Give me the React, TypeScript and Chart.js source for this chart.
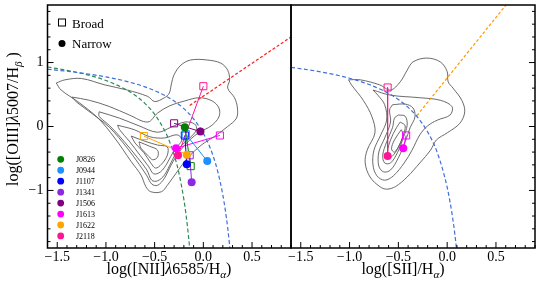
import React, { useEffect, useRef } from 'react';
import { Chart, registerables } from 'chart.js';
Chart.register(...registerables);

const FONT = '"Liberation Serif", "Times New Roman", serif';

// ---------- axes ----------
const xMin = -1.6, xMax = 0.9, yMin = -1.9, yMax = 1.9;
const xTickValues = [-1.5, -1.0, -0.5, 0.0, 0.5];
const yTickValues = [-1, 0, 1];

// ---------- objects ----------
const objectNames = ['J0826', 'J0944', 'J1107', 'J1341', 'J1506', 'J1613', 'J1622', 'J2118'];
const objectColors = ['#008000', '#1E90FF', '#0000FF', '#8A2BE2', '#800080', '#FF00FF', '#FFA500', '#FF1493'];

// [NII] BPT: broad (open squares) and narrow (filled circles)
const niiBroadX = [-0.13, -0.18, -0.19, -0.14, -0.30, 0.17, -0.61, 0.0];
const niiBroadY = [-0.62, -0.12, -0.14, -0.45, 0.05, -0.14, -0.15, 0.63];
const niiNarrowX = [-0.19, 0.04, -0.17, -0.12, -0.03, -0.28, -0.17, -0.26];
const niiNarrowY = [-0.01, -0.54, -0.59, -0.87, -0.08, -0.34, -0.44, -0.45];

// [SII] BPT
const siiNames = ['J1613', 'J2118'];
const siiBroadX = [-0.42, -0.61];
const siiBroadY = [-0.14, 0.61];
const siiNarrowX = [-0.45, -0.61];
const siiNarrowY = [-0.34, -0.46];

// ---------- demarcation curves ----------
const kewleyNiiX = [-1.6, -1.4, -1.2, -1.0, -0.8, -0.6, -0.4, -0.3, -0.2, -0.1, 0.0, 0.05, 0.1, 0.15, 0.2, 0.225, 0.25, 0.275];
const kewleyNiiY = [0.895, 0.864, 0.825, 0.775, 0.710, 0.620, 0.489, 0.398, 0.280, 0.120, -0.108, -0.262, -0.459, -0.716, -1.069, -1.300, -1.583, -1.938];
const kauffmannX = [-1.6, -1.4, -1.2, -1.0, -0.8, -0.7, -0.6, -0.5, -0.4, -0.35, -0.3, -0.25, -0.2, -0.175, -0.15, -0.14];
const kauffmannY = [0.930, 0.879, 0.812, 0.719, 0.582, 0.487, 0.362, 0.191, -0.056, -0.225, -0.443, -0.733, -1.140, -1.411, -1.750, -1.911];
const schawinskiX = [-0.14, 0.9];
const schawinskiY = [0.33, 1.40];
const kewleySiiX = [-1.6, -1.4, -1.2, -1.0, -0.8, -0.6, -0.5, -0.4, -0.3, -0.2, -0.1, 0.0, 0.05, 0.08, 0.1];
const kewleySiiY = [0.925, 0.881, 0.826, 0.755, 0.657, 0.517, 0.422, 0.300, 0.139, -0.085, -0.414, -0.950, -1.367, -1.700, -1.973];
const seyfertLinerX = [-0.31, 0.65];
const seyfertLinerY = [0.17, 1.99];

// ---------- density contours (SDSS) ----------
const niiContours = [
  [[-1.51, 0.68], [-1.42, 0.73], [-1.25, 0.75], [-1.01, 0.65], [-0.78, 0.57], [-0.57, 0.47], [-0.50, 0.39], [-0.40, 0.45], [-0.35, 0.52], [-0.33, 0.65], [-0.30, 0.81], [-0.23, 0.96], [-0.13, 1.04], [0.04, 1.04], [0.18, 0.99], [0.25, 0.88], [0.27, 0.73], [0.25, 0.60], [0.32, 0.45], [0.35, 0.29], [0.34, 0.13], [0.25, 0.0], [0.11, -0.16], [-0.02, -0.29], [-0.16, -0.49], [-0.27, -0.71], [-0.37, -0.92], [-0.43, -1.02], [-0.54, -1.02], [-0.59, -0.94], [-0.64, -0.76], [-0.74, -0.55], [-0.91, -0.18], [-1.08, 0.13], [-1.29, 0.39], [-1.46, 0.57]],
  [[-1.35, 0.46], [-1.17, 0.41], [-0.96, 0.31], [-0.76, 0.18], [-0.57, 0.07], [-0.47, 0.21], [-0.35, 0.32], [-0.19, 0.40], [-0.04, 0.45], [0.09, 0.40], [0.16, 0.29], [0.16, 0.15], [0.08, 0.01], [-0.04, -0.09], [-0.14, -0.21], [-0.25, -0.40], [-0.33, -0.60], [-0.40, -0.81], [-0.47, -0.92], [-0.53, -0.90], [-0.58, -0.77], [-0.66, -0.59], [-0.78, -0.34], [-0.96, -0.02], [-1.15, 0.21], [-1.30, 0.38]],
  [[-1.07, 0.23], [-0.86, 0.13], [-0.66, 0.01], [-0.47, -0.09], [-0.33, -0.01], [-0.19, 0.07], [-0.09, 0.04], [-0.07, -0.05], [-0.14, -0.18], [-0.25, -0.34], [-0.33, -0.56], [-0.40, -0.76], [-0.47, -0.85], [-0.53, -0.84], [-0.58, -0.68], [-0.68, -0.48], [-0.81, -0.24], [-0.96, 0.01], [-1.07, 0.16]],
  [[-0.88, 0.02], [-0.71, -0.05], [-0.55, -0.16], [-0.40, -0.18], [-0.27, -0.13], [-0.22, -0.21], [-0.30, -0.37], [-0.37, -0.57], [-0.44, -0.71], [-0.51, -0.74], [-0.56, -0.63], [-0.65, -0.45], [-0.76, -0.23], [-0.86, -0.05]],
  [[-0.74, -0.15], [-0.60, -0.23], [-0.47, -0.29], [-0.37, -0.32], [-0.37, -0.45], [-0.43, -0.59], [-0.49, -0.65], [-0.54, -0.57], [-0.61, -0.41], [-0.70, -0.26]],
  [[-0.66, -0.24], [-0.55, -0.31], [-0.47, -0.37], [-0.47, -0.48], [-0.52, -0.52], [-0.57, -0.45], [-0.64, -0.34]],
];
const siiContours = [
  [[-1.01, 0.73], [-0.89, 0.73], [-0.69, 0.65], [-0.58, 0.57], [-0.48, 0.70], [-0.41, 0.88], [-0.35, 1.01], [-0.21, 1.07], [-0.07, 1.01], [0.0, 0.86], [0.01, 0.70], [0.06, 0.60], [0.15, 0.41], [0.18, 0.23], [0.13, 0.05], [0.0, -0.10], [-0.11, -0.21], [-0.17, -0.37], [-0.28, -0.57], [-0.41, -0.79], [-0.53, -0.94], [-0.62, -0.98], [-0.69, -0.94], [-0.79, -0.79], [-0.84, -0.57], [-0.82, -0.37], [-0.74, -0.10], [-0.77, 0.15], [-0.86, 0.41], [-0.98, 0.65]],
  [[-0.76, 0.57], [-0.58, 0.49], [-0.28, 0.45], [-0.07, 0.41], [0.05, 0.31], [0.03, 0.18], [-0.10, 0.10], [-0.20, 0.01], [-0.28, -0.13], [-0.36, -0.37], [-0.44, -0.57], [-0.55, -0.77], [-0.64, -0.84], [-0.72, -0.77], [-0.76, -0.60], [-0.75, -0.37], [-0.68, -0.13], [-0.62, 0.10], [-0.64, 0.34], [-0.71, 0.49]],
  [[-0.56, 0.34], [-0.43, 0.35], [-0.35, 0.29], [-0.33, 0.15], [-0.38, -0.02], [-0.43, -0.24], [-0.50, -0.49], [-0.58, -0.68], [-0.65, -0.71], [-0.70, -0.62], [-0.70, -0.40], [-0.64, -0.18], [-0.58, 0.07], [-0.59, 0.26]],
  [[-0.50, 0.18], [-0.43, 0.16], [-0.41, 0.02], [-0.45, -0.18], [-0.51, -0.41], [-0.58, -0.57], [-0.64, -0.57], [-0.66, -0.45], [-0.62, -0.24], [-0.56, -0.02], [-0.54, 0.13]],
  [[-0.48, 0.07], [-0.43, 0.01], [-0.46, -0.18], [-0.52, -0.38], [-0.58, -0.48], [-0.61, -0.40], [-0.58, -0.21], [-0.52, -0.02]],
  [[-0.47, -0.05], [-0.45, -0.13], [-0.49, -0.29], [-0.54, -0.40], [-0.57, -0.35], [-0.54, -0.21]],
];

// ---------- helpers ----------
const xy = (xs: number[], ys: number[]) => xs.map((x, i) => ({ x, y: ys[i] }));
const closed = (c: number[][]) => {
  const p = c.map(([x, y]) => ({ x, y }));
  p.push({ ...p[0] });
  return p;
};
const fmt = (v: number, d: number) => (v < 0 ? '\u2212' : '') + Math.abs(v).toFixed(d);

type Part = { t: string; sub?: boolean; it?: boolean };

function drawRich(ctx: CanvasRenderingContext2D, parts: Part[], cx: number, base: number, size: number) {
  const subSize = size * 0.7;
  const fontOf = (p: Part) => (p.sub ? `italic ${subSize}px ${FONT}` : p.it ? `italic ${size}px ${FONT}` : `${size}px ${FONT}`);
  const widths = parts.map((p) => {
    ctx.font = fontOf(p);
    return ctx.measureText(p.t).width;
  });
  const total = widths.reduce((a, b) => a + b, 0);
  let x = cx - total / 2;
  ctx.textAlign = 'left';
  ctx.textBaseline = 'alphabetic';
  parts.forEach((p, i) => {
    ctx.font = fontOf(p);
    ctx.fillText(p.t, x, base + (p.sub ? size * 0.28 : 0));
    x += widths[i];
  });
}

function line(ctx: CanvasRenderingContext2D, x1: number, y1: number, x2: number, y2: number) {
  ctx.beginPath();
  ctx.moveTo(x1, y1);
  ctx.lineTo(x2, y2);
  ctx.stroke();
}

function decorPlugin(side: 'left' | 'right') {
  return {
    id: 'decor-' + side,
    afterDraw(chart: any) {
      const ctx: CanvasRenderingContext2D = chart.ctx;
      const a = chart.chartArea;
      const xs = chart.scales.x;
      const ys = chart.scales.y;
      ctx.save();
      ctx.strokeStyle = '#000';
      ctx.fillStyle = '#000';
      ctx.lineWidth = 1;
      for (let i = -16; i <= 9; i++) {
        const px = xs.getPixelForValue(i / 10);
        const len = i % 5 === 0 ? 6 : 3;
        line(ctx, px, a.bottom, px, a.bottom - len);
      }
      for (let i = -18; i <= 18; i += 2) {
        const py = ys.getPixelForValue(i / 10);
        const len = i % 10 === 0 ? 6 : 3;
        if (side === 'left') line(ctx, a.left, py, a.left + len, py);
        else line(ctx, a.right, py, a.right - len, py);
      }
      ctx.lineWidth = 1.5;
      ctx.strokeRect(a.left, a.top, a.right - a.left, a.bottom - a.top);

      if (side === 'left') {
        drawRich(ctx, [{ t: 'log([NII]' }, { t: 'λ', it: true }, { t: '6585/H' }, { t: 'α', sub: true }, { t: ')' }], 169, 274, 16);
        ctx.save();
        ctx.translate(17.5, 119);
        ctx.rotate(-Math.PI / 2);
        drawRich(ctx, [{ t: 'log([OIII]' }, { t: 'λ', it: true }, { t: '5007/H' }, { t: 'β', sub: true }, { t: ' )' }], 0, 0, 16);
        ctx.restore();

        ctx.lineWidth = 1;
        ctx.strokeRect(62 - 3.5, 22.5 - 3.5, 7, 7);
        ctx.beginPath();
        ctx.arc(62, 43.5, 3.5, 0, Math.PI * 2);
        ctx.fill();
        ctx.font = `13px ${FONT}`;
        ctx.textAlign = 'left';
        ctx.textBaseline = 'alphabetic';
        ctx.fillText('Broad', 72, 27.5);
        ctx.fillText('Narrow', 72, 47.5);

        ctx.font = `8px ${FONT}`;
        objectNames.forEach((name, i) => {
          const cy = 159.3 + i * 10.95;
          ctx.fillStyle = objectColors[i];
          ctx.beginPath();
          ctx.arc(60.7, cy, 3.4, 0, Math.PI * 2);
          ctx.fill();
          ctx.fillStyle = '#000';
          ctx.fillText(name, 76, cy + 3);
        });
      } else {
        drawRich(ctx, [{ t: 'log([SII]/H' }, { t: 'α', sub: true }, { t: ')' }], 403 - 288, 274, 16);
      }
      ctx.restore();
    },
  };
}

function buildDatasets(
  contours: number[][][],
  curves: { x: number[]; y: number[]; color: string; dash: number[] }[],
  names: string[],
  bx: number[], by: number[], nx: number[], ny: number[],
) {
  const ds: any[] = [];
  contours.forEach((c) => {
    ds.push({
      data: closed(c), showLine: true, borderColor: '#5a5a5a', borderWidth: 0.9,
      pointRadius: 0, tension: 0.35, fill: false, order: 10,
    });
  });
  curves.forEach((cv) => {
    ds.push({
      data: xy(cv.x, cv.y), showLine: true, borderColor: cv.color, borderWidth: 1.2,
      borderDash: cv.dash, pointRadius: 0, cubicInterpolationMode: 'monotone', fill: false, order: 8,
    });
  });
  names.forEach((name, i) => {
    const col = objectColors[objectNames.indexOf(name)];
    ds.push({
      data: [{ x: bx[i], y: by[i] }, { x: nx[i], y: ny[i] }], showLine: true,
      borderColor: col, borderWidth: 1, pointRadius: 0, fill: false, order: 5,
    });
    ds.push({
      data: [{ x: bx[i], y: by[i] }], pointStyle: 'rect', pointRadius: 5,
      borderColor: col, borderWidth: 1, backgroundColor: 'rgba(0,0,0,0)', order: 3,
    });
    ds.push({
      data: [{ x: nx[i], y: ny[i] }], pointStyle: 'circle', pointRadius: 4,
      borderWidth: 0, backgroundColor: col, borderColor: col, order: 2,
    });
  });
  return ds;
}

const zeroPad = (s: any) => {
  s.paddingTop = 0;
  s.paddingBottom = 0;
  s.paddingLeft = 0;
  s.paddingRight = 0;
};

function makeOptions(side: 'left' | 'right') {
  const tickFont = { family: FONT, size: 14 };
  return {
    responsive: false,
    animation: false,
    devicePixelRatio: 1,
    events: [],
    layout: {
      autoPadding: false,
      padding: side === 'left' ? { top: 5, left: 0, right: 1, bottom: 0 } : { top: 5, left: 3, right: 5, bottom: 0 },
    },
    plugins: { legend: { display: false }, tooltip: { enabled: false } },
    scales: {
      x: {
        type: 'linear', min: xMin, max: xMax,
        grid: { display: false, drawTicks: false }, border: { display: false },
        afterBuildTicks: (s: any) => { s.ticks = xTickValues.map((v) => ({ value: v })); },
        afterFit: (s: any) => { s.height = 39; zeroPad(s); },
        ticks: { padding: 1, font: tickFont, color: '#000', maxRotation: 0, autoSkip: false, callback: (v: any) => fmt(Number(v), 1) },
      },
      y: {
        type: 'linear', min: yMin, max: yMax, position: side,
        grid: { display: false, drawTicks: false }, border: { display: false },
        afterBuildTicks: (s: any) => { s.ticks = yTickValues.map((v) => ({ value: v })); },
        afterFit: (s: any) => { s.width = side === 'left' ? 47.5 : 0; zeroPad(s); },
        ticks: { display: side === 'left', padding: 4, font: tickFont, color: '#000', autoSkip: false, callback: (v: any) => fmt(Number(v), 0) },
      },
    },
  };
}

export default function App() {
  const leftRef = useRef<HTMLCanvasElement>(null);
  const rightRef = useRef<HTMLCanvasElement>(null);

  useEffect(() => {
    const left = new Chart(leftRef.current as HTMLCanvasElement, {
      type: 'scatter',
      data: {
        datasets: buildDatasets(
          niiContours,
          [
            { x: kewleyNiiX, y: kewleyNiiY, color: '#3f6fdc', dash: [4, 2.5] },
            { x: kauffmannX, y: kauffmannY, color: '#2e8b57', dash: [4, 2.5] },
            { x: schawinskiX, y: schawinskiY, color: '#ff1a1a', dash: [3, 2] },
          ],
          objectNames, niiBroadX, niiBroadY, niiNarrowX, niiNarrowY,
        ),
      },
      options: makeOptions('left') as any,
      plugins: [decorPlugin('left')],
    });
    const right = new Chart(rightRef.current as HTMLCanvasElement, {
      type: 'scatter',
      data: {
        datasets: buildDatasets(
          siiContours,
          [
            { x: kewleySiiX, y: kewleySiiY, color: '#3f6fdc', dash: [4, 2.5] },
            { x: seyfertLinerX, y: seyfertLinerY, color: '#ff9900', dash: [3, 2] },
          ],
          siiNames, siiBroadX, siiBroadY, siiNarrowX, siiNarrowY,
        ),
      },
      options: makeOptions('right') as any,
      plugins: [decorPlugin('right')],
    });
    return () => {
      left.destroy();
      right.destroy();
    };
  }, []);

  return (
    <div style={{ position: 'fixed', left: 0, top: 0, width: 540, height: 287, background: '#fff' }}>
      <canvas ref={leftRef} width={292} height={287} style={{ position: 'absolute', left: 0, top: 0, width: 292, height: 287 }} />
      <canvas ref={rightRef} width={252} height={287} style={{ position: 'absolute', left: 288, top: 0, width: 252, height: 287 }} />
    </div>
  );
}
